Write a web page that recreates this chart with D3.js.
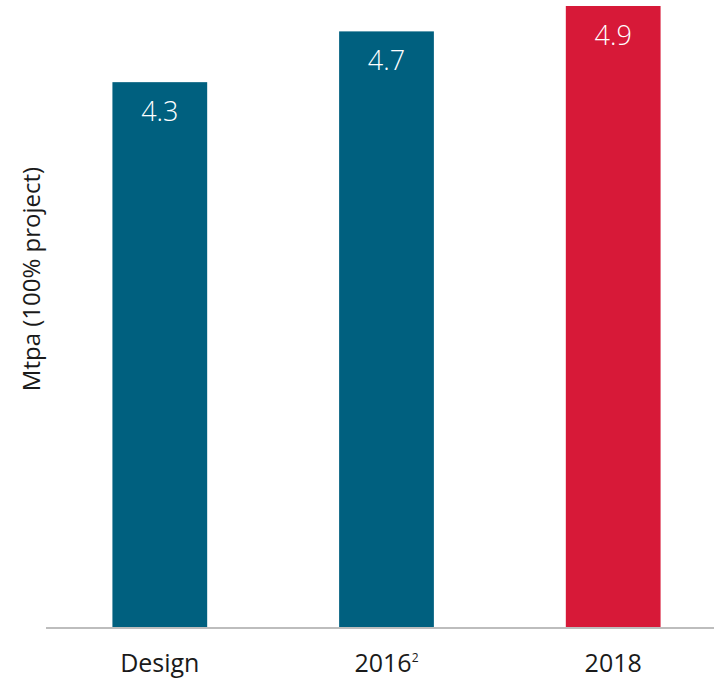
<!DOCTYPE html>
<html>
<head>
<meta charset="utf-8">
<script src="https://cdn.jsdelivr.net/npm/d3@7"></script>
<style>
  body { margin: 0; background: #fff; }
  svg text { font-family: "Open Sans", "DejaVu Sans", sans-serif; }
</style>
</head>
<body>
<svg id="chart" width="714" height="678"></svg>
<script>
// categories and values
var categorias = ["Design", "2016", "2018"];
var sobrescritos = ["", "2", ""];
var valores = [4.3, 4.7, 4.9];
var cores = ["#00607f", "#00607f", "#d71938"];

var svg = d3.select("svg#chart"),
    margin = { top: 6, right: 0, bottom: 50, left: 46 },
    width = +svg.attr("width") - margin.left - margin.right,
    height = +svg.attr("height") - margin.top - margin.bottom;

var g = svg.append("g")
    .attr("transform", "translate(" + margin.left + "," + margin.top + ")");

var x = d3.scaleBand()
    .domain(categorias)
    .range([0, 681])
    .paddingInner(0.582)
    .paddingOuter(0.293);

var y = d3.scaleLinear()
    .domain([0, 4.9])
    .range([height, 0]);

var dados = categorias.map(function (c, i) {
    return { cat: c, sup: sobrescritos[i], valor: valores[i], cor: cores[i] };
});

// bars
g.selectAll(".bar")
    .data(dados)
    .enter()
    .append("rect")
    .attr("class", "bar")
    .attr("x", function (d) { return x(d.cat); })
    .attr("y", function (d) { return y(d.valor); })
    .attr("width", x.bandwidth())
    .attr("height", function (d) { return height - y(d.valor); })
    .attr("fill", function (d) { return d.cor; });

// value labels inside the bars
g.selectAll(".rotulo")
    .data(dados)
    .enter()
    .append("text")
    .attr("class", "rotulo")
    .attr("x", function (d) { return x(d.cat) + x.bandwidth() / 2; })
    .attr("y", function (d) { return y(d.valor) + 39; })
    .attr("text-anchor", "middle")
    .attr("fill", "#fff")
    .attr("font-size", "27px")
    .attr("font-weight", "300")
    .text(function (d) { return d.valor.toFixed(1); });

// x axis: plain grey baseline, no ticks
var eixoX = g.append("g")
    .attr("transform", "translate(0," + height + ")")
    .call(d3.axisBottom(x).tickSize(0).tickFormat(""));

eixoX.select(".domain")
    .attr("d", "M0,0H" + width)
    .attr("stroke", "#bdbdbd")
    .attr("stroke-width", 2);

eixoX.selectAll(".tick text").remove();

var rotX = eixoX.selectAll(".tick")
    .data(dados)
    .append("text")
    .attr("y", 44)
    .attr("text-anchor", "middle")
    .attr("fill", "#1a1a1a")
    .attr("font-size", "25px");

rotX.append("tspan").text(function (d) { return d.cat; });
rotX.append("tspan")
    .attr("dy", "-0.8em")
    .attr("font-size", "12px")
    .text(function (d) { return d.sup; });

// y axis title
svg.append("text")
    .attr("transform", "translate(40,279) rotate(-90)")
    .attr("text-anchor", "middle")
    .attr("fill", "#1a1a1a")
    .attr("font-size", "24px")
    .text("Mtpa (100% project)");
</script>
</body>
</html>
